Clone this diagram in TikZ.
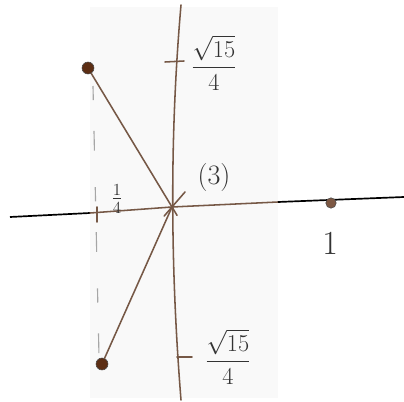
\documentclass[tikz,border=0pt]{standalone}
\usepackage{amsmath,amssymb}
\usepackage{tikz}
\usetikzlibrary{positioning,calc}
\definecolor{ink}{RGB}{118,88,70}
\definecolor{dotc}{RGB}{92,46,20}
\definecolor{paper}{RGB}{249,249,249}
\tikzset{
  pen/.style={ink, line width=1.1pt, line cap=round},
  blot/.style={circle, fill=dotc, draw=black!70, inner sep=0pt, minimum size=0.3cm},
  lbl/.style={font=\fontsize{18}{20}\selectfont, text=black!80}
}
\begin{document}
\begin{tikzpicture}[x=0.025cm, y=-0.025cm]
\useasboundingbox (0,0) rectangle (404,402);
\fill[white] (0,0) rectangle (404,402);
\fill[paper] (90,7) rectangle (278,398);
% ---- axes
\coordinate (O) at (172,207);
\draw[line width=1.2pt] (10,217) -- (90,213);
\draw[pen] (90,213) -- (O) -- (278,202);
\draw[line width=1.2pt] (278,202) -- (404,197);
\draw[pen] (181,5) .. controls (171,120) and (169,250) .. (181,400);
% ---- ticks
\draw[pen] (165,62) -- (184,61);
\draw[pen] (177,357) -- (192,357);
\draw[pen] (97,207) -- (97,222);
% ---- points
\node[blot] (p) at (88,68) {};
\node[blot] (q) at (102,364) {};
\node[blot, minimum size=0.26cm, fill=dotc!80!white] (r) at (331,203) {};
\draw[gray!70, line width=0.8pt, dash pattern=on 10pt off 22pt on 14pt off 26pt] (93,86) -- (99,356);
\draw[pen] (p) -- ($(p)!1.06!(O)$);
\draw[pen] (q) -- (O);
\coordinate (tip) at (185,192);
\draw[pen] (tip) -- ($(tip)!1.6!(O)$);
% ---- labels
\node[lbl] (top) at (214,63) {$\displaystyle\frac{\sqrt{15}}{4}$};
\node[lbl] (bot) at (228,357) {$\displaystyle\frac{\sqrt{15}}{4}$};
\node[lbl, font=\fontsize{20}{22}\selectfont] (three) at (214,177) {(3)};
\node[lbl, font=\fontsize{24}{26}\selectfont] (one) at (330,243) {1};
\node[lbl] (quar) at (117,199) {$\frac14$};
\end{tikzpicture}
\end{document}
